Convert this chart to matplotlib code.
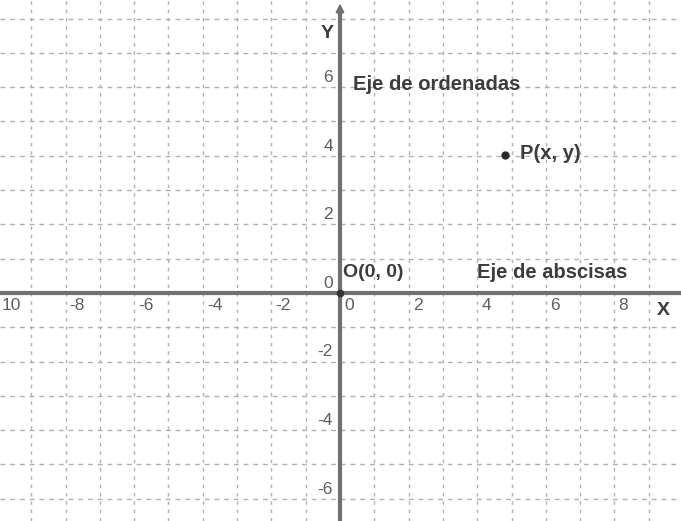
import matplotlib
matplotlib.use("Agg")
import matplotlib.pyplot as plt
import numpy as np

# Data
x_ticks = [-10, -8, -6, -4, -2, 0, 2, 4, 6, 8]
x_tick_labels = ["10", "-8", "-6", "-4", "-2", "0", "2", "4", "6", "8"]
y_ticks = [-6, -4, -2, 0, 2, 4, 6]
y_tick_labels = ["-6", "-4", "-2", "0", "2", "4", "6"]
point_x = [4.81]
point_y = [4.02]
point_label = "P(x, y)"
x_range = (-9.91, 9.94)
y_range = (-6.65, 8.54)

plt.rcParams['font.family'] = ['Liberation Sans', 'DejaVu Sans']

fig = plt.figure(figsize=(6.81, 5.21), dpi=100)
ax = fig.add_axes([0, 0, 1, 1])
ax.set_xlim(*x_range)
ax.set_ylim(*y_range)
ax.axis('off')

grid_col = '#b0b0b0'
for gx in range(-10, 11):
    if gx == 0:
        continue
    ax.axvline(gx, color=grid_col, lw=1.0, ls=(0, (2.5, 3.5)), zorder=1)
for gy in range(-7, 10):
    if gy == 0:
        continue
    ax.axhline(gy, color=grid_col, lw=1.0, ls=(0, (3.5, 3.5)), zorder=1)

axis_col = '#707070'
ax.axhline(0, color=axis_col, lw=3.0, zorder=2)
ax.plot([0, 0], [y_range[0], 8.2], color=axis_col, lw=3.0, zorder=2, solid_capstyle='butt')
ax.annotate('', xy=(0, 8.52), xytext=(0, 8.0),
            arrowprops=dict(arrowstyle='-|>', color=axis_col, lw=1.5, mutation_scale=12), zorder=3)
ax.plot([0], [0], 'o', color='#333333', ms=4.5, zorder=4)

tick_col = '#5e5e5e'
for v, lab in zip(x_ticks, x_tick_labels):
    xpos = -9.85 if v == -10 else v + 0.12
    ax.text(xpos, -0.15, lab, ha='left', va='top', fontsize=12.5, color=tick_col)
for v, lab in zip(y_ticks, y_tick_labels):
    ax.text(-0.2, v + 0.06, lab, ha='right', va='bottom', fontsize=12.5, color=tick_col)

txt_col = '#3c3c3c'
ax.text((663 - 340) / 34.3, -0.5, 'X', ha='center', va='center', fontsize=14, fontweight='bold', color=txt_col)
ax.text(-0.38, 7.55, 'Y', ha='center', va='center', fontsize=14, fontweight='bold', color=txt_col)
ax.text(0.38, 6.08, 'Eje de ordenadas', ha='left', va='center', fontsize=14.5, fontweight='bold', color=txt_col)
ax.text(0.1, 0.6, 'O(0, 0)', ha='left', va='center', fontsize=14, fontweight='bold', color=txt_col)
ax.text(3.98, 0.6, 'Eje de abscisas', ha='left', va='center', fontsize=14.5, fontweight='bold', color=txt_col)

ax.plot(point_x, point_y, 'o', color='#2a2a2a', ms=5, zorder=4)
ax.text(point_x[0] + 0.45, point_y[0] + 0.05, point_label, ha='left', va='center',
        fontsize=14.5, fontweight='bold', color=txt_col)

fig.savefig('out.png', dpi=100)
